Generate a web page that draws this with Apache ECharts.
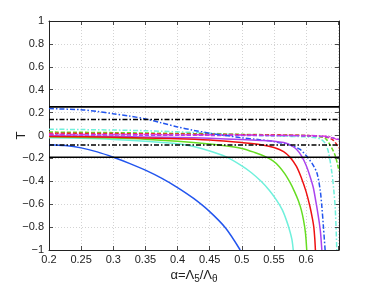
<!DOCTYPE html>
<html><head><meta charset="utf-8">
<script src="https://cdn.jsdelivr.net/npm/echarts@6/dist/echarts.min.js"></script>
<style>html,body{margin:0;padding:0;background:#fff}#c{width:374px;height:282px}</style>
</head><body><div id="c"></div>
<script>
// ---- data ----
var xTicks = [0.2,0.25,0.3,0.35,0.4,0.45,0.5,0.55,0.6];
var yTicks = [-1,-0.8,-0.6,-0.4,-0.2,0,0.2,0.4,0.6,0.8,1];
var xRange = [0.2,0.6512];

var blackSolidLevels = [0.25,-0.19];
var blackDashLevels = [0.14,-0.083];

var blueSolidX = [0.2,0.225,0.25,0.275,0.3,0.325,0.35,0.375,0.4,0.425,0.45,0.475,0.4975];
var blueSolidY = [-0.08,-0.088,-0.108,-0.143,-0.19,-0.243,-0.303,-0.373,-0.455,-0.55,-0.665,-0.81,-1.0];

var cyanSolidX = [0.2,0.25,0.3,0.35,0.4,0.425,0.45,0.475,0.5,0.515,0.53,0.543,0.554,0.563,0.57,0.575,0.578,0.58];
var cyanSolidY = [-0.02,-0.025,-0.034,-0.05,-0.072,-0.097,-0.135,-0.185,-0.265,-0.325,-0.4,-0.48,-0.565,-0.65,-0.75,-0.84,-0.91,-1.0];

var greenSolidX = [0.2,0.3,0.35,0.4,0.45,0.48,0.5,0.52,0.535,0.548,0.558,0.567,0.575,0.582,0.588,0.5925,0.596,0.599,0.601];
var greenSolidY = [-0.01,-0.022,-0.032,-0.05,-0.075,-0.095,-0.113,-0.148,-0.18,-0.22,-0.27,-0.335,-0.41,-0.49,-0.57,-0.65,-0.74,-0.85,-1.0];

var redSolidX = [0.2,0.3,0.4,0.45,0.5,0.53,0.55,0.565,0.575,0.585,0.593,0.6,0.606,0.61,0.612,0.6135,0.6145];
var redSolidY = [-0.008,-0.015,-0.028,-0.04,-0.062,-0.08,-0.105,-0.14,-0.19,-0.27,-0.375,-0.49,-0.62,-0.73,-0.8,-0.9,-1.0];

var purpleSolidX = [0.2,0.3,0.4,0.45,0.5,0.53,0.55,0.565,0.575,0.585,0.593,0.6,0.606,0.611,0.615,0.618,0.6205,0.6225,0.6245];
var purpleSolidY = [-0.003,-0.008,-0.017,-0.025,-0.035,-0.043,-0.05,-0.062,-0.082,-0.12,-0.18,-0.26,-0.355,-0.45,-0.57,-0.67,-0.76,-0.85,-1.0];

var blueDashX = [0.2,0.25,0.275,0.3,0.325,0.35,0.375,0.4,0.425,0.45,0.475,0.5,0.525,0.55,0.575,0.59,0.6,0.61,0.617,0.622,0.6245,0.627,0.6296];
var blueDashY = [0.235,0.225,0.21,0.19,0.17,0.145,0.11,0.075,0.045,0.02,0.0,-0.02,-0.035,-0.054,-0.083,-0.12,-0.175,-0.25,-0.33,-0.48,-0.62,-0.8,-1.0];

var cyanDashX = [0.2,0.25,0.3,0.35,0.4,0.45,0.5,0.55,0.6,0.615,0.624,0.63,0.635,0.64,0.643,0.6455,0.6478];
var cyanDashY = [0.055,0.052,0.048,0.042,0.032,0.02,0.006,-0.004,-0.012,-0.02,-0.035,-0.07,-0.15,-0.32,-0.47,-0.65,-1.0];

var greenDashX = [0.2,0.3,0.4,0.5,0.6,0.62,0.63,0.637,0.645,0.6512];
var greenDashY = [0.03,0.025,0.018,0.01,0.0,-0.01,-0.025,-0.08,-0.17,-0.31];

var redDashX = [0.2,0.3,0.4,0.5,0.6,0.625,0.635,0.643,0.6512];
var redDashY = [0.02,0.017,0.013,0.007,0.0,-0.008,-0.02,-0.045,-0.11];

var magentaDashX = [0.2,0.3,0.4,0.5,0.6,0.63,0.64,0.6512];
var magentaDashY = [0.01,0.009,0.007,0.004,0.0,-0.006,-0.015,-0.045];

var purpleDashX = [0.2,0.3,0.4,0.5,0.6,0.63,0.64,0.6512];
var purpleDashY = [0.005,0.004,0.002,0.0,-0.004,-0.01,-0.02,-0.035];

// ---- build ----
function pairs(xs, ys){ return xs.map(function(x,i){ return [x, ys[i]]; }); }
var DASHDOT = [5,2,1.5,2];
var DASH = [4,2];
function curve(xs, ys, color, type, w){
  return {type:'line', data:pairs(xs,ys), showSymbol:false, symbol:'none', smooth:0.3,
    clip:true, lineStyle:{color:color, width:w||1.5, type:type||'solid'}, z:3};
}
function hline(level, type){
  return {type:'line', data:[[xRange[0],level],[xRange[1],level]], symbol:'none', showSymbol:false,
    lineStyle:{color:'#000', width:1.6, type:type}, z:4};
}
function fmt(v){ var s = String(parseFloat(v.toFixed(2))); return s.replace('-', '\u2212'); }

var series = [
  curve(cyanDashX, cyanDashY, '#6ff0dc', DASHDOT),
  curve(greenDashX, greenDashY, '#66dd22', DASH),
  curve(redDashX, redDashY, '#ee2222', DASH),
  curve(magentaDashX, magentaDashY, '#ee33dd', DASHDOT),
  curve(purpleDashX, purpleDashY, '#aa44ee', DASH),
  curve(blueDashX, blueDashY, '#2255ee', DASHDOT),
  curve(cyanSolidX, cyanSolidY, '#6ff0dc', 'solid'),
  curve(greenSolidX, greenSolidY, '#66dd22', 'solid'),
  curve(purpleSolidX, purpleSolidY, '#aa44ee', 'solid'),
  curve(redSolidX, redSolidY, '#ee1111', 'solid'),
  curve(blueSolidX, blueSolidY, '#2255ee', 'solid'),
  hline(blackSolidLevels[0], 'solid'), hline(blackSolidLevels[1], 'solid'),
  hline(blackDashLevels[0], DASHDOT), hline(blackDashLevels[1], DASHDOT)
];

var font = 'Liberation Sans, Arial, sans-serif';
var tickStyle = {show:true, inside:true, length:4, lineStyle:{color:'#222', width:0.8}};
var chart = echarts.init(document.getElementById('c'), null, {renderer:'canvas'});
chart.setOption({
  animation:false,
  backgroundColor:'#fff',
  grid:{left:49, right:35, top:21, bottom:32, show:false, containLabel:false, outerBoundsMode:'none'},
  xAxis:[{
    type:'value', min:xRange[0], max:xRange[1], interval:0.05, position:'bottom',
    axisLine:{show:true, onZero:false, lineStyle:{color:'#222', width:1}},
    axisTick:tickStyle,
    axisLabel:{color:'#222', fontFamily:font, fontSize:11, margin:4,
      formatter:function(v){ return xTicks.some(function(t){return Math.abs(t-v)<1e-6;}) ? fmt(v) : ''; }},
    splitLine:{show:true, lineStyle:{color:'#c8c8c8', type:[1,2], width:0.8}},
    name:'α=Λ{s|5}/Λ{s|θ}', nameLocation:'middle', nameGap:17, nameMoveOverlap:false,
    nameTextStyle:{color:'#222', fontFamily:font, fontSize:13, lineHeight:16,
      rich:{s:{fontSize:10, fontFamily:font, color:'#222', padding:[9,0,0,0], lineHeight:16}}}
  },{
    type:'value', min:xRange[0], max:xRange[1], interval:0.05, position:'top',
    axisLine:{show:true, onZero:false, lineStyle:{color:'#222', width:1}},
    axisTick:tickStyle, axisLabel:{show:false}, splitLine:{show:false}
  }],
  yAxis:[{
    type:'value', min:-1, max:1, interval:0.2, position:'left',
    axisLine:{show:true, onZero:false, lineStyle:{color:'#222', width:1}},
    axisTick:tickStyle,
    axisLabel:{color:'#222', fontFamily:font, fontSize:11, margin:5, formatter:function(v){ return fmt(v); }},
    splitLine:{show:true, lineStyle:{color:'#c8c8c8', type:[1,2], width:0.8}},
    name:'T', nameLocation:'middle', nameGap:21, nameRotate:90, nameMoveOverlap:false,
    nameTextStyle:{color:'#222', fontFamily:font, fontSize:13}
  },{
    type:'value', min:-1, max:1, interval:0.2, position:'right',
    axisLine:{show:true, onZero:false, lineStyle:{color:'#222', width:1}},
    axisTick:tickStyle, axisLabel:{show:false}, splitLine:{show:false}
  }],
  series:series
});
</script></body></html>
